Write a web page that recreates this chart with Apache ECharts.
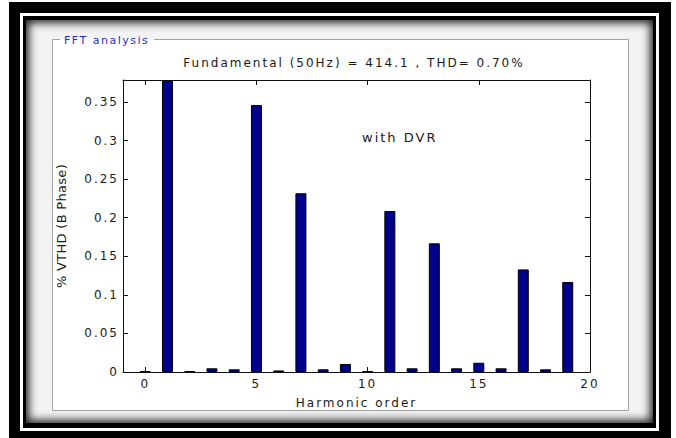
<!DOCTYPE html>
<html>
<head>
<meta charset="utf-8">
<title>FFT analysis</title>
<script src="https://cdn.jsdelivr.net/npm/echarts@6/dist/echarts.min.js"></script>
<style>
  html, body { margin: 0; padding: 0; background: #fff; }
  #wrap { position: relative; width: 676px; height: 438px; overflow: hidden; }
  .frame { position: absolute; }
  #chart { position: absolute; left: 0; top: 0; width: 676px; height: 438px; }
  #chart text { letter-spacing: 2px; }
</style>
</head>
<body>
<div id="wrap">
  <!-- double black picture frame with an inner shadow -->
  <div class="frame" style="left:9px;top:2px;width:662px;height:440px;background:#000"></div>
  <div class="frame" style="left:20px;top:13px;width:639px;height:418px;background:#fff"></div>
  <div class="frame" style="left:23px;top:16px;width:633px;height:412px;background:#000"></div>
  <div class="frame" style="left:26px;top:20px;width:627px;height:403px;background:#f3f3f3;box-shadow:inset 0 0 9px 3px rgba(0,0,0,0.85)"></div>
  <div id="chart"></div>
</div>
<script>
// Harmonic spectrum of the B-phase voltage
const harmonicOrder = [0, 1, 2, 3, 4, 5, 6, 7, 8, 9, 10, 11, 12, 13, 14, 15, 16, 17, 18, 19];
const vthdPercent = [0.001, 0.3785, 0.0013, 0.0048, 0.0035, 0.346, 0.002, 0.2317, 0.0035, 0.0104,
                     0.001, 0.2087, 0.0048, 0.1668, 0.0048, 0.012, 0.0048, 0.133, 0.0035, 0.1167];
const xTicks = [0, 5, 10, 15, 20];
const yTicks = [0, 0.05, 0.1, 0.15, 0.2, 0.25, 0.3, 0.35];
const xRange = [-1, 20];
const yMax = Math.max(...vthdPercent);

const titleText = 'Fundamental (50Hz) = 414.1 , THD= 0.70%';
const panelText = 'FFT analysis';
const noteText = 'with DVR';
const xName = 'Harmonic order';
const yName = '% VTHD (B Phase)';

const FONT = 'DejaVu Sans';
const INK = '#1a1a1a';
const LINE = '#111';

const chart = echarts.init(document.getElementById('chart'), null, { renderer: 'svg' });

// every side of the plot box is an axis with inward ticks
const boxAxis = (ticks, extra) => Object.assign({
  type: 'value',
  axisLine: { show: true, onZero: false, lineStyle: { color: LINE, width: 1 } },
  axisTick: { show: true, inside: true, length: 5, customValues: ticks, lineStyle: { color: LINE } },
  axisLabel: { show: false },
  splitLine: { show: false }
}, extra);

chart.setOption({
  animation: false,
  backgroundColor: 'transparent',
  textStyle: { fontFamily: FONT },
  title: {
    text: titleText,
    left: 354,
    top: 57,
    textAlign: 'center',
    padding: 0,
    textStyle: { fontFamily: FONT, fontSize: 12, fontWeight: 'normal', color: INK }
  },
  graphic: [
    // group box: white panel with a gray outline broken by its caption
    { type: 'rect', z: -10, silent: true,
      shape: { x: 52.5, y: 39.5, width: 576, height: 371 },
      style: { fill: '#fff', stroke: null } },
    { type: 'polyline', z: -9, silent: true,
      shape: { points: [[60, 39.5], [52.5, 39.5], [52.5, 410.5], [628.5, 410.5], [628.5, 39.5], [154, 39.5]] },
      style: { stroke: '#a3a3a3', lineWidth: 1, fill: null } },
    { type: 'text', silent: true, x: 64, y: 40,
      style: { text: panelText, fill: '#2b2bc4', font: '11px "DejaVu Sans"', verticalAlign: 'middle' } },
    { type: 'text', silent: true, x: 362, y: 137, z: 10,
      style: { text: noteText, fill: INK, font: '13px "DejaVu Sans"', verticalAlign: 'middle' } }
  ],
  grid: { left: 123, top: 80, width: 467, height: 292, containLabel: false },
  xAxis: [
    boxAxis(xTicks, {
      position: 'bottom', min: xRange[0], max: xRange[1],
      name: xName, nameLocation: 'middle', nameGap: 25,
      nameTextStyle: { fontFamily: FONT, fontSize: 12, color: INK },
      axisLabel: { show: true, customValues: xTicks, margin: 6, fontFamily: FONT, fontSize: 12, color: INK }
    }),
    boxAxis(xTicks, { position: 'top', min: xRange[0], max: xRange[1] })
  ],
  yAxis: [
    boxAxis(yTicks, {
      position: 'left', min: 0, max: yMax,
      name: yName, nameLocation: 'middle', nameGap: 55,
      nameTextStyle: { fontFamily: FONT, fontSize: 13, color: INK },
      axisLabel: { show: true, customValues: yTicks, margin: 4, fontFamily: FONT, fontSize: 12, color: INK }
    }),
    boxAxis(yTicks, { position: 'right', min: 0, max: yMax })
  ],
  series: [{
    type: 'bar',
    xAxisIndex: 0,
    yAxisIndex: 0,
    barWidth: 11,
    silent: true,
    itemStyle: { color: '#00008a', borderColor: '#000', borderWidth: 1 },
    data: harmonicOrder.map((h, i) => [h, vthdPercent[i]])
  }]
});

// tighten the spacing of the rotated axis name and the group caption
const spacing = { [yName]: '0.3px', [panelText]: '1.5px' };
document.querySelectorAll('#chart text').forEach(t => {
  const s = spacing[t.textContent];
  if (s) t.style.letterSpacing = s;
});
</script>
</body>
</html>
